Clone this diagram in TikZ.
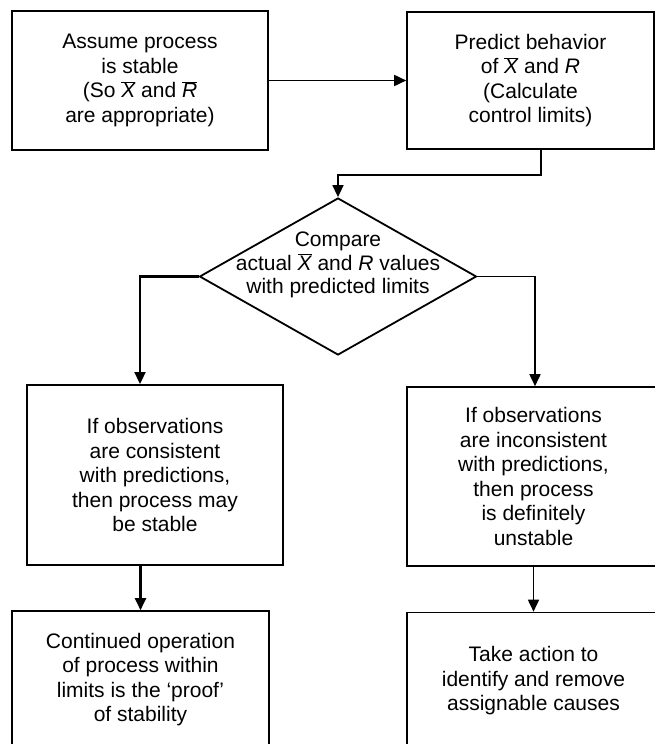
\documentclass[tikz,border=0pt]{standalone}
\usepackage{fontspec}
\setmainfont{Liberation Sans}
\usetikzlibrary{arrows.meta,shapes.geometric}

\newcommand{\barsym}[1]{\ensuremath{\overline{\mbox{\itshape #1}}}}
\newcommand{\itsym}[1]{\textit{#1}}

\tikzset{
	flowbox/.style={draw, line width=1.6pt, align=center, inner sep=0pt,
		font=\fontsize{21}{24.5}\selectfont},
	arr/.style={line width=1.7pt, -{Triangle[length=12pt,width=11pt]}},
	thickarr/.style={arr, line width=2.3pt},
}

\begin{document}
\begin{tikzpicture}[x=1pt,y=-1pt]
		\path[use as bounding box, clip] (0,0) rectangle (655,744);
		% top row
		\node[flowbox, minimum width=256pt, minimum height=139pt] (assume) at (140,80.5)
			{Assume process\\is stable\\(So \barsym{X} and \barsym{R}\\are appropriate)};
		\node[flowbox, minimum width=247pt, minimum height=137pt] (predict) at (530.5,80.5)
			{Predict behavior\\of \barsym{X} and \itsym{R}\\(Calculate\\control limits)};
		% decision
		\node[draw, diamond, line width=1.8pt, inner sep=0pt,
			minimum width=277pt, minimum height=157pt] (cmp) at (338,276.5) {};
		\node[align=center, inner sep=0pt, font=\fontsize{21}{23.5}\selectfont] (cmptext) at (338,265)
			{Compare\\actual \barsym{X} and \itsym{R} values\\with predicted limits};
		% outcomes
		\node[flowbox, line width=2pt, minimum width=256pt, minimum height=180pt] (consist) at (155,475)
			{If observations\\are consistent\\with predictions,\\then process may\\be stable};
		\node[flowbox, minimum width=253pt, minimum height=179pt] (inconsist) at (533.5,476.5)
			{If observations\\are inconsistent\\with predictions,\\then process\\is definitely\\unstable};
		\node[flowbox, minimum width=257pt, minimum height=137pt] (proof) at (140.5,679.5)
			{Continued operation\\of process within\\limits is the `proof'\\of stability};
		\node[flowbox, minimum width=253pt, minimum height=137pt] (action) at (533.5,681)
			{Take action to\\identify and remove\\assignable causes};
		% connectors
		\coordinate (bend) at (541,175);
		\draw[arr] (assume) -- (predict);
		\draw[arr] ([xshift=10.5pt]predict.south) -- (bend) -| (cmp.north);
		\draw[thickarr] (cmp.west) -| ([xshift=-15pt]consist.north);
		\draw[arr] (cmp.east) -| ([xshift=1.5pt]inconsist.north);
		\draw[thickarr] (proof.north |- consist.south) -- (proof.north);
		\draw[arr] (inconsist.south) -- (action.north);
	\end{tikzpicture}
\end{document}
